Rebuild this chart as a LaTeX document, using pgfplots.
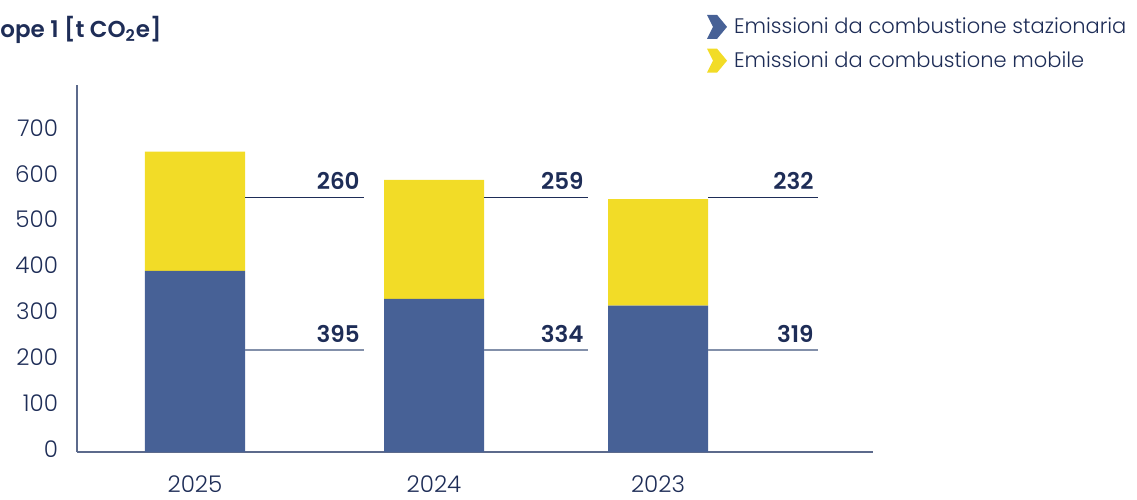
\documentclass[border=0pt]{standalone}
\usepackage{fontspec}
\setmainfont{Poppins Light}[BoldFont=Poppins SemiBold]
\usepackage{pgfplots}
\usepackage{pgfplotstable}
\pgfplotsset{compat=1.18}

\definecolor{navy}{HTML}{1E2D57}
\definecolor{blueS}{HTML}{476196}
\definecolor{yellowM}{HTML}{F2DC27}
\definecolor{axisgray}{HTML}{5C6A8C}
\definecolor{leadlo}{HTML}{8390AA}

% x = bar centre (px grid), stazionaria, mobile, leader line start/end
\pgfplotstableread{
x   stat mob xs  xe
195 395  260 245 364
434 334  259 484 588
658 319  232 708 818
}\scopeone

\begin{document}
\begin{tikzpicture}
\pgfplotsset{
  common/.style={
    at={(38.5pt,23.5pt)}, anchor=south west,
    scale only axis, width=398pt, height=183.5pt,
    xmin=77, xmax=873, ymin=0, ymax=800,
    /pgf/number format/assume math mode=true,
  },
  vallabel/.style={draw=none, mark=none, point meta=explicit,
    nodes near coords={\pgfmathprintnumber{\pgfplotspointmeta}},
    every node near coord/.style={anchor=base east, text=navy, inner sep=0pt,
      xshift=-2pt, yshift=4pt, font=\bfseries\fontsize{11.5}{13}\selectfont}},
  chevron/.style={legend image code/.code={\fill (-4.5pt,6pt) -- (0.5pt,6pt) -- (5.5pt,0pt) -- (0.5pt,-6pt) -- (-4.5pt,-6pt) -- (-1.5pt,0pt) -- cycle;}},
}
\begin{axis}[
  common,
  axis x line*=bottom, axis y line*=left,
  axis line style={draw=axisgray, line width=0.7pt, -},
  ybar stacked, bar width=100,
  xtick={195,434,658}, xticklabels={2025,2024,2023},
  ytick={0,100,...,700},
  major tick length=0pt,
  tick label style={font=\fontsize{11.5}{13}\selectfont, text=navy},
  xticklabel style={yshift=-8.5pt},
  yticklabel style={xshift=-6pt, yshift=1.5pt},
  legend style={at={(0.791,1.196)}, anchor=north west, draw=none, fill=none,
    font=\fontsize{10.5}{13}\selectfont, text=navy, row sep=3.5pt, inner sep=0pt,
    nodes={inner xsep=3.5pt}},
  legend cell align=left,
]
\addplot[fill=blueS, draw=none, chevron] table[x=x, y=stat]{\scopeone};
\addplot[fill=yellowM, draw=none, chevron] table[x=x, y=mob]{\scopeone};
\legend{Emissioni da combustione stazionaria, Emissioni da combustione mobile}
\end{axis}

\begin{axis}[common, hide axis, clip=false]
% leader lines
\addplot[navy, line width=0.7pt] coordinates {(245,555) (364,555)};
\addplot[navy, line width=0.7pt] coordinates {(484,555) (588,555)};
\addplot[navy, line width=0.7pt] coordinates {(708,555) (818,555)};
\addplot[leadlo, line width=0.9pt] coordinates {(245,222) (364,222)};
\addplot[leadlo, line width=0.9pt] coordinates {(484,222) (588,222)};
\addplot[leadlo, line width=0.9pt] coordinates {(708,222) (818,222)};
% value labels
\addplot[vallabel] table[x=xe, y expr=555, meta=mob]{\scopeone};
\addplot[vallabel] table[x=xe, y expr=222, meta=stat]{\scopeone};
\end{axis}

\node[anchor=base west, inner sep=0pt, text=navy, font=\bfseries\fontsize{11.5}{14}\selectfont]
  at (0pt,230.5pt) {ope 1 [t CO\textsubscript{2}e]};
\pgfresetboundingbox
\useasboundingbox (0pt,0pt) rectangle (568.5pt,249.5pt);
\end{tikzpicture}
\end{document}
